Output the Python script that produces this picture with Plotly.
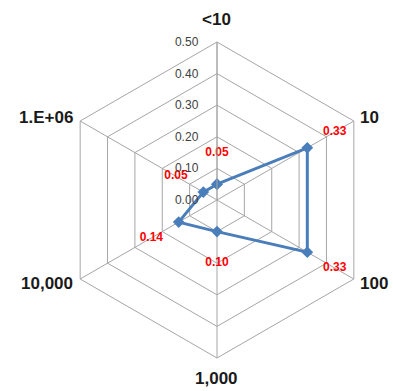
import plotly.graph_objects as go

# Share of observations per size class
categories = ["<10", "10", "100", "1,000", "10,000", "1.E+06"]
values = [0.05, 0.33, 0.33, 0.10, 0.14, 0.05]
radial_ticks = [0.0, 0.1, 0.2, 0.3, 0.4, 0.5]

line_color = "#4A7EBB"
label_color = "#FF0000"
grid_color = "#A6A6A6"
font_family = "Liberation Sans, Arial, sans-serif"

# close the polygon
theta_closed = categories + categories[:1]
r_closed = values + values[:1]

fig = go.Figure()

fig.add_trace(go.Scatterpolar(
    r=r_closed,
    theta=theta_closed,
    mode="lines+markers",
    line=dict(color=line_color, width=3),
    marker=dict(symbol="diamond", size=9, color=line_color),
    hoverinfo="skip",
    showlegend=False,
))

# value labels, pushed outward along each spoke
fig.add_trace(go.Scatterpolar(
    r=[v + 0.1 for v in values],
    theta=categories,
    mode="text",
    text=[f"{v:.2f}" for v in values],
    textfont=dict(family=font_family, size=12, color=label_color, weight="bold"),
    textposition="middle center",
    hoverinfo="skip",
    showlegend=False,
))

# category labels around the outside of the web
label_pos = {
    "<10": (216, 20, "center"),
    "10": (358, 118, "left"),
    "100": (358, 283, "left"),
    "1,000": (216, 378, "center"),
    "10,000": (75, 283, "right"),
    "1.E+06": (75, 118, "right"),
}
W, H = 393, 391
for cat in categories:
    px, py, anchor = label_pos[cat]
    fig.add_annotation(
        x=px / W, y=1 - py / H, xref="paper", yref="paper",
        text=cat, showarrow=False, xanchor=anchor, yanchor="middle",
        font=dict(family=font_family, size=17, color="#1a1a1a", weight="bold"),
    )

fig.update_layout(
    width=W,
    height=H,
    margin=dict(l=0, r=0, t=0, b=0),
    paper_bgcolor="white",
    plot_bgcolor="white",
    showlegend=False,
    polar=dict(
        domain=dict(x=[59 / W, 375 / W], y=[33 / H, 349 / H]),
        gridshape="linear",
        bgcolor="white",
        angularaxis=dict(
            type="category",
            categoryorder="array",
            categoryarray=categories,
            direction="clockwise",
            rotation=90,
            showline=True,
            linecolor=grid_color,
            linewidth=1,
            gridcolor=grid_color,
            gridwidth=1,
            ticks="",
            showticklabels=False,
        ),
        radialaxis=dict(
            range=[0, 0.5],
            tickvals=radial_ticks,
            ticktext=[f"{t:.2f}" for t in radial_ticks],
            angle=90,
            tickangle=90,
            side="counterclockwise",
            showline=True,
            linecolor=grid_color,
            linewidth=1,
            gridcolor=grid_color,
            gridwidth=1,
            ticks="outside",
            ticklen=14,
            tickcolor="rgba(0,0,0,0)",
            tickfont=dict(family=font_family, size=12, color="#404040"),
        ),
    ),
)

fig.write_html("out.html")
